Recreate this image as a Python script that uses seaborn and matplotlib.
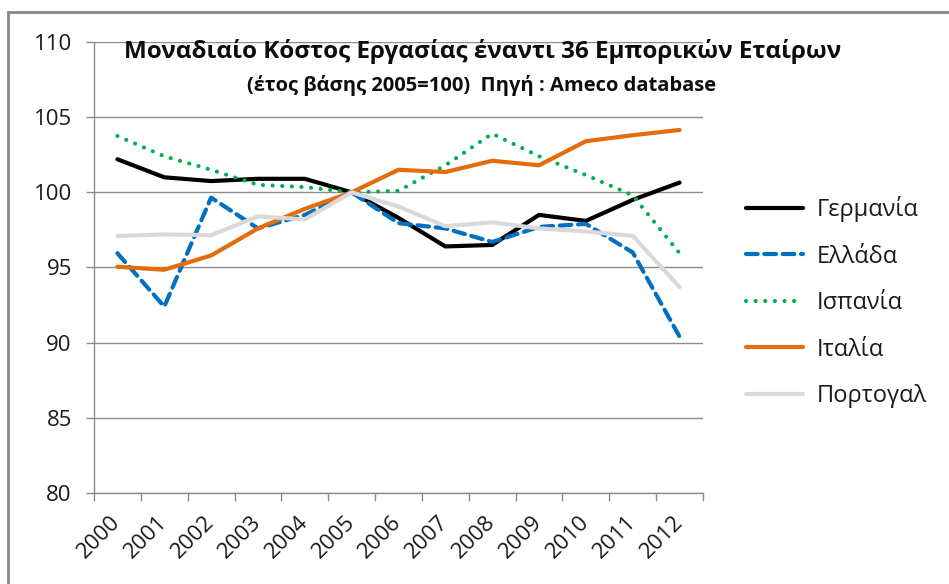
import numpy as np
import pandas as pd
import seaborn as sns
import matplotlib.pyplot as plt
from matplotlib.patches import Rectangle

years = [2000, 2001, 2002, 2003, 2004, 2005, 2006, 2007, 2008, 2009, 2010, 2011, 2012]

germany = [102.2, 101.0, 100.75, 100.9, 100.9, 100.0, 98.3, 96.4, 96.5, 98.5, 98.1, 99.5, 100.65]
greece = [95.95, 92.4, 99.65, 97.6, 98.5, 100.0, 97.95, 97.6, 96.7, 97.7, 97.9, 96.0, 90.4]
spain = [103.75, 102.4, 101.5, 100.5, 100.35, 100.0, 100.1, 101.8, 103.9, 102.4, 101.15, 99.8, 95.95]
italy = [95.05, 94.85, 95.8, 97.6, 98.9, 100.0, 101.5, 101.35, 102.1, 101.8, 103.4, 103.8, 104.15]
portugal = [97.1, 97.2, 97.15, 98.4, 98.2, 100.0, 99.05, 97.75, 98.0, 97.6, 97.4, 97.1, 93.7]

series_names = ['Γερμανία', 'Ελλάδα', 'Ισπανία', 'Ιταλία', 'Πορτογαλ']
series_values = [germany, greece, spain, italy, portugal]
colors = ['#000000', '#0070C0', '#00B050', '#E46C0A', '#D9D9D9']

title = 'Μοναδιαίο Κόστος Εργασίας έναντι 36 Εμπορικών Εταίρων'
subtitle = '(έτος βάσης 2005=100)  Πηγή : Ameco database'

sns.set_style('white')
plt.rcParams['font.family'] = ['Open Sans', 'DejaVu Sans']

fig = plt.figure(figsize=(9.49, 5.84), dpi=100)
ax = fig.add_axes([94 / 949, 1 - 493 / 584, 609 / 949, 451 / 584])

for name, vals, col in zip(series_names, series_values, colors):
    df = pd.DataFrame({'year': years, 'value': vals})
    sns.lineplot(data=df, x='year', y='value', ax=ax, color=col, lw=3, label=name)

lines = ax.get_lines()
lines[1].set_dashes((2.8, 1.6))
lines[1].set_dash_capstyle('round')
lines[2].set_dashes((0.01, 2.3))
lines[2].set_dash_capstyle('round')
for ln in lines:
    ln.set_solid_capstyle('round')

grid_col = '#8C8C8C'
txt_col = '#1a1a1a'
ax.set_ylim(80, 110)
ax.set_yticks(np.arange(80, 111, 5))
ax.yaxis.grid(True, color=grid_col, lw=1)
ax.set_xlim(years[0] - 0.5, years[-1] + 0.5)
ax.set_xticks(years)
ax.set_xticks(np.arange(years[0] - 0.5, years[-1] + 1, 1), minor=True)
ax.set_xlabel('')
ax.set_ylabel('')

for s in ['top', 'right']:
    ax.spines[s].set_visible(False)
for s in ['left', 'bottom']:
    ax.spines[s].set_color(grid_col)
    ax.spines[s].set_linewidth(1)

ax.tick_params(axis='y', which='major', direction='out', length=6, width=1,
               color=grid_col, left=True, labelsize=16, pad=10, labelcolor=txt_col)
ax.tick_params(axis='x', which='major', length=0, labelsize=16, pad=19, labelcolor=txt_col)
ax.tick_params(axis='x', which='minor', direction='out', length=6, width=1,
               color=grid_col, bottom=True)
for lab in ax.get_xticklabels():
    lab.set_rotation(45)
    lab.set_ha('right')
    lab.set_va('center')
    lab.set_rotation_mode('anchor')

fig.text(483 / 949, 1 - 52 / 584, title, ha='center', va='center',
         fontsize=17.5, fontweight='bold', color='#0d0d0d')
fig.text(482 / 949, 1 - 86 / 584, subtitle, ha='center', va='center',
         fontsize=14.5, fontweight='bold', color='#0d0d0d')

leg = ax.legend(loc='upper left', bbox_to_anchor=(725 / 949, 1 - 175 / 584),
                bbox_transform=fig.transFigure, frameon=False, fontsize=17,
                handlelength=2.4, handletextpad=0.6, labelspacing=0.95)
for t in leg.get_texts():
    t.set_color(txt_col)

# chart border (cropped at right and bottom)
fig.patches.append(Rectangle((8 / 949, -0.2), 1.2, 1.2 - 12 / 584, transform=fig.transFigure,
                             fill=False, edgecolor='#878787', lw=2))

fig.savefig('out.png', dpi=100)
